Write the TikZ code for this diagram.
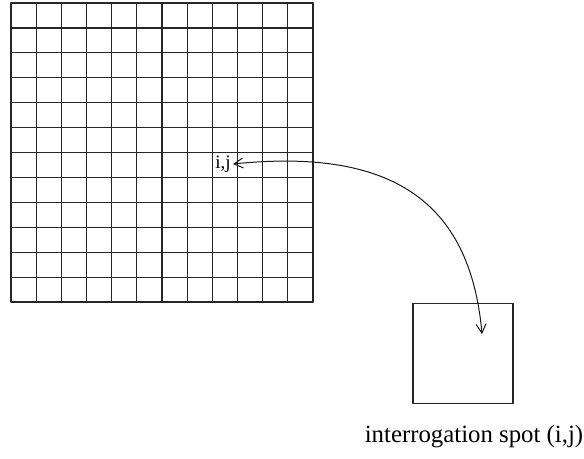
\documentclass[tikz,border=0pt]{standalone}
\usepackage{fontspec}
\setmainfont{Liberation Serif}
\usetikzlibrary{arrows.meta, positioning}

\begin{document}
\begin{tikzpicture}[
  x=0.5pt,
  y=-0.5pt,
  line cap=round,
  line join=round,
  cellline/.style={
    draw=black!85,
    line width=0.6pt
  },
  celllabel/.style={
    font=\fontsize{9.5}{11}\selectfont,
    inner sep=1pt
  },
  spotbox/.style={
    draw=black!85,
    line width=0.55pt,
    minimum width=50pt,
    minimum height=50pt,
    inner sep=0pt
  },
  caption/.style={
    font=\fontsize{12.4}{15}\selectfont,
    anchor=base,
    inner sep=0pt
  },
  linkarrow/.style={
    {Straight Barb[length=4.5pt,width=5pt]}-{Straight Barb[length=4.5pt,width=5pt]},
    line width=0.5pt,
    draw=black!90
  }
]

\useasboundingbox (0,0) rectangle (584,459);

% =========================================================
% Array of spots, 12 x 12
% =========================================================

\foreach \k in {0,...,12} {
  \draw[cellline] ({11+\k*25.17},3) -- ({11+\k*25.17},302);
  \draw[cellline] (11,{3+\k*24.92}) -- (313,{3+\k*24.92});
}

\node[celllabel] (cellij) at (223,164) {i,j};

% =========================================================
% Interrogation spot
% =========================================================

\node[spotbox] (spot) at (463,353.5) {};
\coordinate (probe) at (482,334);

\node[caption] (spotlabel) at (474,443) {interrogation spot (i,j)};

\draw[linkarrow] (cellij.east) .. controls (390,148) and (470,200) .. (probe);

\end{tikzpicture}
\end{document}
